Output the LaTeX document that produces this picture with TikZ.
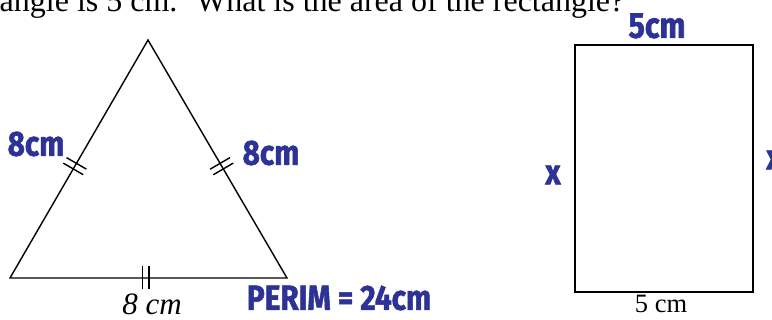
\documentclass[tikz,border=0pt]{standalone}
\usepackage{fontspec}
\setmainfont{Liberation Serif}
\newfontfamily\hand[FakeStretch=0.85,FakeBold=1.5]{Fira Sans}
\usetikzlibrary{decorations.markings}
\definecolor{penblue}{RGB}{45,50,150}

\begin{document}
\begin{tikzpicture}[
  x=1pt, y=-1pt, line width=1.4pt,
  ticktwo/.style={postaction={decorate, decoration={markings,
    mark=at position #1 with {\draw (-3.2pt,-11.5pt) -- (-3.2pt,11.5pt) (3.2pt,-11.5pt) -- (3.2pt,11.5pt);}}}},
  pen/.style={text=penblue, inner sep=0pt, font=\hand\bfseries\fontsize{#1}{#1}\selectfont},
  print/.style={inner sep=0pt, font=\fontsize{#1}{#1}\selectfont},
]
  \useasboundingbox (0,0) rectangle (772,320);
  \clip (0,0) rectangle (772,320);

  % question line, cut at the top
  \node[print=32, anchor=base west] (question) at (-1,12)
    {angle is 5 cm.~ What is the area of the rectangle?};

  % triangle
  \coordinate (A) at (10,278);
  \coordinate (B) at (287,278);
  \coordinate (C) at (148,40);
  \draw[line join=miter] (A) -- (B) -- (C) -- cycle;

  % equal sides
  \path[ticktwo=0.47] (A) -- (C);
  \path[ticktwo=0.47] (B) -- (C);
  \path[ticktwo=0.49] (A) -- (B);

  \node[inner sep=0pt, font=\itshape\fontsize{31}{31}\selectfont] (base) at (152,304) {8 cm};

  % rectangle
  \coordinate (P) at (575,45);
  \coordinate (Q) at (753,292);
  \draw[line width=2pt] (P) rectangle (Q);
  \node[print=26.5] (width) at (661,304) {5 cm};

  % handwritten notes
  \node[pen=35] (leftside) at (36,144) {8cm};
  \node[pen=35] (rightside) at (271,153) {8cm};
  \node[pen=35] (perim) at (339,298) {PERIM = 24cm};
  \node[pen=36] (top) at (657,26) {5cm};
  \node[pen=35] (xleft) at (553,175) {x};
  \node[pen=35] (xright) at (774,160) {x};
\end{tikzpicture}
\end{document}
